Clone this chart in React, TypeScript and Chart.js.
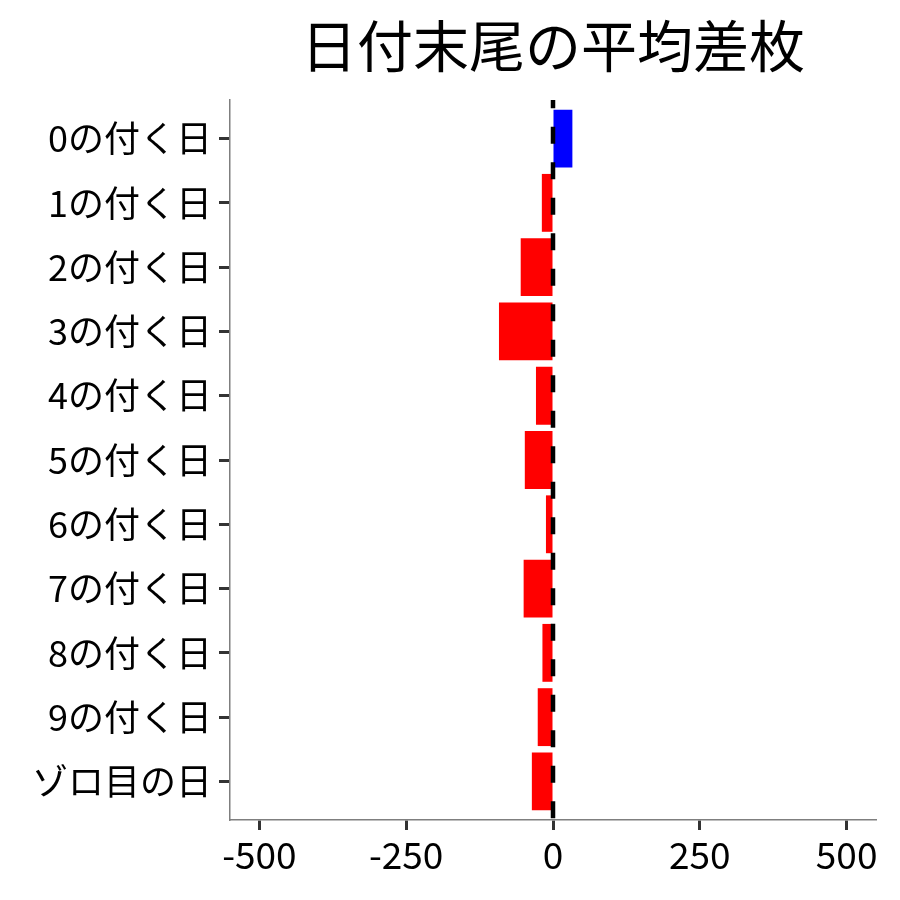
import React, { useEffect, useRef } from 'react';
import { Chart, registerables, Plugin } from 'chart.js';

Chart.register(...registerables);

// Data
const categories = [
  '0の付く日', '1の付く日', '2の付く日', '3の付く日', '4の付く日',
  '5の付く日', '6の付く日', '7の付く日', '8の付く日', '9の付く日', 'ゾロ目の日',
];
const avgDiff = [33, -19, -55, -92, -29, -48, -12, -50, -18, -26, -36];
const xTicks = [-500, -250, 0, 250, 500];
const chartTitle = '日付末尾の平均差枚';

const FONT = "'Noto Sans CJK JP', 'Noto Sans', sans-serif";

// Title centred over the plot panel (not the whole canvas)
const titlePlugin: Plugin<'bar'> = {
  id: 'panelTitle',
  afterDraw(chart) {
    const { ctx, chartArea } = chart;
    ctx.save();
    ctx.font = `56px ${FONT}`;
    ctx.fillStyle = '#000';
    ctx.textAlign = 'center';
    ctx.textBaseline = 'middle';
    ctx.fillText(chartTitle, (chartArea.left + chartArea.right) / 2, 46);
    ctx.restore();
  },
};

// dashed reference line at x = 0
const zeroLinePlugin: Plugin<'bar'> = {
  id: 'zeroLine',
  afterDatasetsDraw(chart) {
    const { ctx, chartArea } = chart;
    const x = chart.scales.x.getPixelForValue(0);
    ctx.save();
    ctx.beginPath();
    ctx.rect(chartArea.left, chartArea.top, chartArea.right - chartArea.left, chartArea.bottom - chartArea.top);
    ctx.clip();
    ctx.strokeStyle = '#000';
    ctx.lineWidth = 4.5;
    ctx.setLineDash([17, 18.5]);
    ctx.lineDashOffset = 8.8;
    ctx.beginPath();
    ctx.moveTo(x, chartArea.top);
    ctx.lineTo(x, chartArea.bottom);
    ctx.stroke();
    ctx.restore();
  },
};

export default function App() {
  const canvasRef = useRef<HTMLCanvasElement>(null);

  useEffect(() => {
    if (!canvasRef.current) return;
    const chart = new Chart(canvasRef.current, {
      type: 'bar',
      data: {
        datasets: [{
          data: avgDiff.map((v, i) => ({ x: v, y: i })),
          backgroundColor: avgDiff.map(v => (v >= 0 ? '#0000FF' : '#FF0000')),
          borderWidth: 0,
          barPercentage: 0.9,
          categoryPercentage: 1,
        }],
      },
      options: {
        indexAxis: 'y',
        animation: false,
        responsive: true,
        maintainAspectRatio: false,
        layout: { padding: { top: 100, right: 24, bottom: 0, left: 0 } },
        plugins: {
          legend: { display: false },
          tooltip: { enabled: false },
          title: { display: false },
        },
        scales: {
          x: {
            type: 'linear',
            min: -550,
            max: 550,
            afterBuildTicks: (scale) => { scale.ticks = xTicks.map(v => ({ value: v })); },
            afterFit: (scale) => { scale.height = 80; },
            grid: { drawOnChartArea: false, drawTicks: true, tickLength: 10, tickWidth: 3, tickColor: '#333333' },
            border: { display: true, color: '#7f7f7f', width: 1.5 },
            ticks: {
              color: '#000',
              padding: 3,
              font: { family: FONT, size: 37 },
              maxRotation: 0,
              autoSkip: false,
            },
          },
          y: {
            type: 'linear',
            reverse: true,
            offset: false,
            min: -0.6,
            max: categories.length - 0.4,
            afterBuildTicks: (scale) => { scale.ticks = categories.map((_, i) => ({ value: i })); },
            afterFit: (scale) => { scale.width = 230; },
            grid: { offset: false, drawOnChartArea: false, drawTicks: true, tickLength: 11, tickWidth: 3, tickColor: '#333333' },
            border: { display: true, color: '#7f7f7f', width: 1.5 },
            ticks: {
              color: '#000',
              padding: 7,
              autoSkip: false,
              font: { family: FONT, size: 36 },
              callback: (v) => categories[Number(v)] ?? '',
            },
          },
        },
      },
      plugins: [titlePlugin, zeroLinePlugin],
    });
    return () => chart.destroy();
  }, []);

  return (
    <div style={{ position: 'fixed', left: 0, top: 0, width: 900, height: 900, background: '#fff' }}>
      <canvas ref={canvasRef}></canvas>
    </div>
  );
}
